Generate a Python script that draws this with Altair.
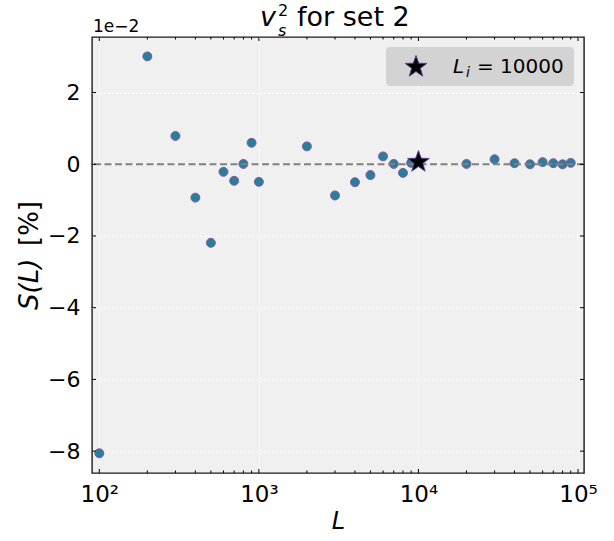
import math
import altair as alt
import pandas as pd

# data (S in units of 1e-2 %)
L_vals = [100, 200, 300, 400, 500, 600, 700, 800, 900, 1000,
          2000, 3000, 4000, 5000, 6000, 7000, 8000, 9000, 10000,
          20000, 30000, 40000, 50000, 60000, 70000, 80000, 90000]
S_vals = [-8.06, 3.01, 0.79, -0.93, -2.19, -0.21, -0.46, 0.01, 0.60, -0.49,
          0.50, -0.87, -0.50, -0.30, 0.22, 0.01, -0.24, 0.04, 0.09,
          0.01, 0.14, 0.03, 0.00, 0.06, 0.03, 0.00, 0.04]
Li = [10000]
S_Li = [0.09]
ref_line = [0]
x_major = [100, 1000, 10000, 100000]
x_minor = [200, 300, 400, 500, 600, 700, 800, 900,
           2000, 3000, 4000, 5000, 6000, 7000, 8000, 9000,
           20000, 30000, 40000, 50000, 60000, 70000, 80000, 90000]
y_major = [-8, -6, -4, -2, 0, 2]

W, H = 492, 436
FONT = "DejaVu Sans"

# 5-pointed star symbol path in the unit box
pts = []
for k in range(10):
    a = math.radians(-90 + 36 * k)
    r = 1.0 if k % 2 == 0 else 0.40
    pts.append(f"{r * math.cos(a):.4f},{r * math.sin(a) + 0.08:.4f}")
STAR = "M" + " L".join(pts) + " Z"

df = pd.DataFrame({"L": L_vals, "S": S_vals})
df_star = pd.DataFrame({"L": Li, "S": S_Li})
df_ref = pd.DataFrame({"S": ref_line})
df_xmaj = pd.DataFrame({"L": x_major})
df_xmin = pd.DataFrame({"L": x_minor})
df_ymaj = pd.DataFrame({"S": y_major})
one = pd.DataFrame({"a": [0]})

xscale = alt.Scale(type="log", domain=[90, 109000], nice=False)
yscale = alt.Scale(domain=[-8.61, 3.55], nice=False, zero=False)

sup = "['⁰','¹','²','³','⁴','⁵','⁶']"
xaxis = alt.Axis(values=x_major, labelExpr="'10' + " + sup + "[round(log(datum.value)/LN10)]",
                 title="L", titleFontStyle="italic", titleFontSize=24, titleFontWeight="normal",
                 titleFont=FONT, titlePadding=3, labelFont=FONT, labelFontSize=23,
                 labelPadding=10, tickSize=0, ticks=False, domain=False,
                 grid=True, gridColor="white", gridDash=[1.5, 2.5], gridWidth=1.2,
                 labelColor="black", titleColor="black", labelFlush=False)
yaxis = alt.Axis(values=y_major, format="d", title=None, labelFont=FONT, labelFontSize=22,
                 labelPadding=12, tickSize=0, ticks=False, domain=False,
                 grid=True, gridColor="white", gridDash=[1.5, 2.5], gridWidth=1.2,
                 labelColor="black")

XA = alt.X("L:Q", scale=xscale, axis=xaxis)
YA = alt.Y("S:Q", scale=yscale, axis=yaxis)

points = alt.Chart(df).mark_point(filled=True, size=80, fill="#2b7d9c", stroke="#7a5ca0",
                                  strokeWidth=1, opacity=1).encode(x=XA, y=YA)

zero = alt.Chart(df_ref).mark_rule(color="#808080", strokeDash=[7, 3.5], strokeWidth=1.9).encode(y=YA)

star = alt.Chart(df_star).mark_point(shape=STAR, filled=True, size=520, fill="black",
                                     stroke="#5b3f8f", strokeWidth=1, opacity=1).encode(x=XA, y=YA)

rk = dict(color="black", strokeWidth=1)
xt_b_maj = alt.Chart(df_xmaj).mark_rule(**rk).encode(x=XA, y=alt.value(H - 4), y2=alt.value(H))
xt_t_maj = alt.Chart(df_xmaj).mark_rule(**rk).encode(x=XA, y=alt.value(0), y2=alt.value(4))
xt_b_min = alt.Chart(df_xmin).mark_rule(**rk).encode(x=XA, y=alt.value(H - 2.5), y2=alt.value(H))
xt_t_min = alt.Chart(df_xmin).mark_rule(**rk).encode(x=XA, y=alt.value(0), y2=alt.value(2.5))
yt_l = alt.Chart(df_ymaj).mark_rule(**rk).encode(y=YA, x=alt.value(0), x2=alt.value(4))
yt_r = alt.Chart(df_ymaj).mark_rule(**rk).encode(y=YA, x=alt.value(W - 4), x2=alt.value(W))

# legend box
leg_box = alt.Chart(one).mark_rect(color="#d3d3d3", cornerRadius=4).encode(
    x=alt.value(294), x2=alt.value(482), y=alt.value(10), y2=alt.value(49))
leg_star = alt.Chart(one).mark_point(shape=STAR, filled=True, size=520, fill="black",
                                     stroke="#5b3f8f", strokeWidth=1, opacity=1).encode(
    x=alt.value(324), y=alt.value(29))
leg_L = alt.Chart(one).mark_text(text="L", font=FONT, fontSize=20, fontStyle="italic",
                                 align="left", baseline="alphabetic").encode(
    x=alt.value(361), y=alt.value(36))
leg_i = alt.Chart(one).mark_text(text="i", font=FONT, fontSize=14, fontStyle="italic",
                                 align="left", baseline="alphabetic").encode(
    x=alt.value(374), y=alt.value(40))
leg_v = alt.Chart(one).mark_text(text="= 10000", font=FONT, fontSize=20,
                                 align="left", baseline="alphabetic").encode(
    x=alt.value(385), y=alt.value(36))

# title pieces
t_v = alt.Chart(one).mark_text(text="v", font=FONT, fontSize=27, fontStyle="italic",
                               align="left", baseline="alphabetic").encode(
    x=alt.value(168), y=alt.value(-11))
t_2 = alt.Chart(one).mark_text(text="2", font=FONT, fontSize=16,
                               align="left", baseline="alphabetic").encode(
    x=alt.value(186), y=alt.value(-21))
t_s = alt.Chart(one).mark_text(text="s", font=FONT, fontSize=16, fontStyle="italic",
                               align="left", baseline="alphabetic").encode(
    x=alt.value(186), y=alt.value(-1))
t_rest = alt.Chart(one).mark_text(text="for set 2", font=FONT, fontSize=27,
                                  align="left", baseline="alphabetic").encode(
    x=alt.value(205), y=alt.value(-11))
offset_txt = alt.Chart(one).mark_text(text="1e−2", font=FONT, fontSize=17,
                                      align="left", baseline="alphabetic").encode(
    x=alt.value(1), y=alt.value(-5))

# y title pieces (rotated)
yt1 = alt.Chart(one).mark_text(text="S(L)", font=FONT, fontSize=26, fontStyle="italic",
                               align="left", baseline="middle", angle=270).encode(
    x=alt.value(-62), y=alt.value(273))
yt2 = alt.Chart(one).mark_text(text="[%]", font=FONT, fontSize=26,
                               align="left", baseline="middle", angle=270).encode(
    x=alt.value(-62), y=alt.value(209))

chart = alt.layer(
    points, zero, star,
    xt_b_maj, xt_t_maj, xt_b_min, xt_t_min, yt_l, yt_r,
    leg_box, leg_star, leg_L, leg_i, leg_v,
    t_v, t_2, t_s, t_rest, offset_txt, yt1, yt2
).properties(
    width=W, height=H,
    padding={"left": 92, "top": 37, "right": 30, "bottom": 68},
    autosize=alt.AutoSizeParams(type="none"),
    background="white"
).configure_view(
    fill="#f0f0f0", stroke="#1a1a1a", strokeWidth=1.4
)

chart.save("out.html", embed_options={"renderer": "svg", "actions": False})
